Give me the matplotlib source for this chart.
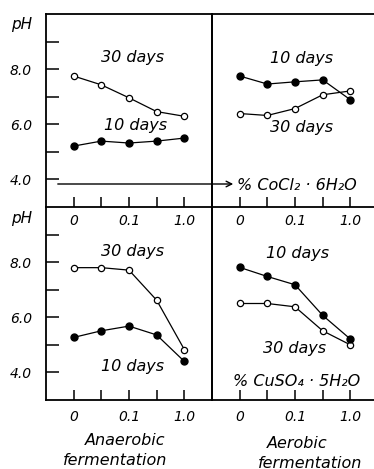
import matplotlib
matplotlib.use("Agg")
import matplotlib.pyplot as plt

# concentration steps (evenly spaced on the chart)
conc_pos = [0, 1, 2, 3, 4]
tick_pos = [0, 2, 4]
tick_labels = ["0", "0.1", "1.0"]

# pH values
co_anaer_30 = [7.75, 7.43, 6.96, 6.46, 6.29]
co_anaer_10 = [5.21, 5.39, 5.32, 5.39, 5.50]
co_aer_10 = [7.75, 7.46, 7.54, 7.61, 6.89]
co_aer_30 = [6.39, 6.32, 6.57, 7.07, 7.21]
cu_anaer_30 = [7.80, 7.80, 7.71, 6.62, 4.83]
cu_anaer_10 = [5.27, 5.51, 5.68, 5.36, 4.40]
cu_aer_10 = [7.81, 7.48, 7.18, 6.07, 5.21]
cu_aer_30 = [6.50, 6.50, 6.38, 5.51, 5.00]

W, H = 374, 469
FONT = dict(family="DejaVu Sans", style="italic")

fig = plt.figure(figsize=(W / 100, H / 100), dpi=100)


def box(x0, x1, y0, y1):
    # pixel box -> figure fraction
    return [x0 / W, 1 - y1 / H, (x1 - x0) / W, (y1 - y0) / H]


def setup(ax, left_col, top_row):
    ax.set_facecolor("none")
    ax.set_xlim(-1, 5)
    ax.set_ylim(3, 10)
    for s in ax.spines.values():
        s.set_linewidth(1.3)
    ax.spines["right"].set_visible(left_col)
    ax.spines["top"].set_visible(top_row)
    ax.set_xticks(tick_pos, tick_labels, fontsize=10, **FONT)
    ax.set_xticks(conc_pos, minor=True)
    ax.tick_params(axis="x", which="both", direction="in", length=7, width=1.1,
                   pad=5 if top_row else 7)
    if left_col:
        ax.set_yticks([4, 6, 8], ["4.0", "6.0", "8.0"], fontsize=10, **FONT)
        ax.set_yticks([5, 7, 9], minor=True)
        ax.tick_params(axis="y", which="both", direction="in", length=9,
                       width=1.1, pad=10)
    else:
        ax.set_yticks([])
        ax.set_yticks([], minor=True)


def series(ax, open_vals, filled_vals):
    ax.plot(conc_pos, open_vals, "-o", color="black", lw=0.9, ms=4.5,
            mfc="white", mew=0.9, clip_on=False)
    ax.plot(conc_pos, filled_vals, "-o", color="black", lw=0.9, ms=5,
            mfc="black", clip_on=False)


def label(ax, x, y, s):
    ax.text(x, y, s, ha="center", va="center", fontsize=11.5, **FONT)


ax1 = fig.add_axes(box(46, 212, 14, 207))
ax2 = fig.add_axes(box(212, 378, 14, 207))
ax3 = fig.add_axes(box(46, 212, 207, 400))
ax4 = fig.add_axes(box(212, 378, 207, 400))

setup(ax1, True, True)
setup(ax2, False, True)
setup(ax3, True, False)
setup(ax4, False, False)

series(ax1, co_anaer_30, co_anaer_10)
series(ax2, co_aer_30, co_aer_10)
series(ax3, cu_anaer_30, cu_anaer_10)
series(ax4, cu_aer_30, cu_aer_10)

label(ax1, 2.14, 8.44, "30 days")
label(ax1, 2.22, 5.94, "10 days")
label(ax2, 2.22, 8.40, "10 days")
label(ax2, 2.22, 5.90, "30 days")
label(ax3, 2.14, 8.40, "30 days")
label(ax3, 2.14, 4.20, "10 days")
label(ax4, 2.11, 8.33, "10 days")
label(ax4, 2.00, 4.85, "30 days")

# pH axis captions
fig.text(22 / W, 1 - 25 / H, "pH", ha="center", va="center", fontsize=11, **FONT)
fig.text(22 / W, 1 - 218 / H, "pH", ha="center", va="center", fontsize=11, **FONT)

# arrow to CoCl2 label
fig.add_artist(matplotlib.patches.FancyArrowPatch(
    (55 / W, 1 - 184 / H), (236 / W, 1 - 184 / H), transform=fig.transFigure,
    arrowstyle="->", mutation_scale=10, lw=1.0, color="black"))
fig.text(237 / W, 1 - 185 / H, "% CoCl₂ · 6H₂O", ha="left", va="center",
         fontsize=11.5, **FONT)
fig.text(297 / W, 1 - 381 / H, "% CuSO₄ · 5H₂O", ha="center", va="center",
         fontsize=11.5, **FONT)

fig.text(125 / W, 1 - 440 / H, "Anaerobic", ha="center", va="center", fontsize=11.5, **FONT)
fig.text(115 / W, 1 - 460 / H, "fermentation", ha="center", va="center", fontsize=11.5, **FONT)
fig.text(297 / W, 1 - 443 / H, "Aerobic", ha="center", va="center", fontsize=11.5, **FONT)
fig.text(310 / W, 1 - 463 / H, "fermentation", ha="center", va="center", fontsize=11.5, **FONT)

fig.savefig("out.png", dpi=100)
